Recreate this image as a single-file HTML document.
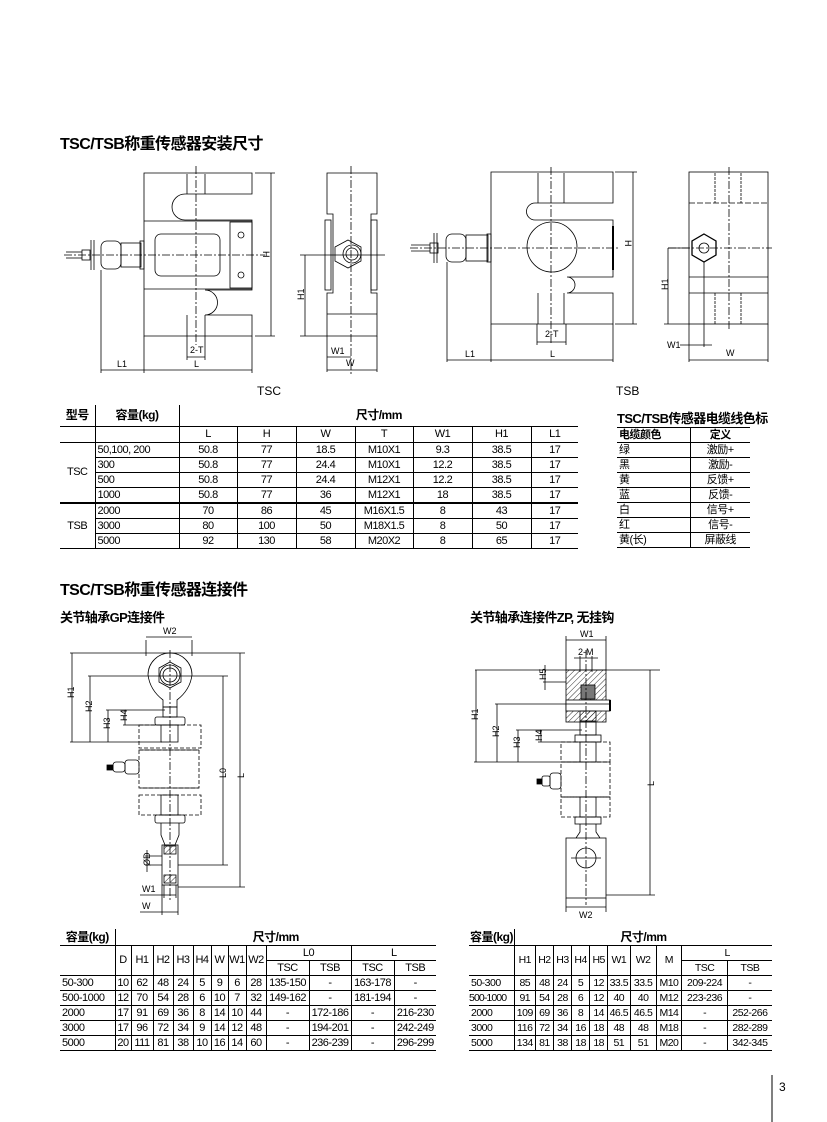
<!DOCTYPE html>
<html><head><meta charset="utf-8">
<style>
body{margin:0;background:#fff;}
#pg{position:relative;width:827px;height:1122px;overflow:hidden;background:#fff;font-family:"Liberation Sans","Noto Sans CJK SC",sans-serif;color:#000;}
.h{position:absolute;font-weight:bold;font-family:"Liberation Sans","Noto Sans CJK SC",sans-serif;white-space:nowrap;letter-spacing:-0.6px;}
table{position:absolute;border-collapse:collapse;table-layout:fixed;font:11px "Liberation Sans","Noto Sans CJK SC",sans-serif;letter-spacing:-0.5px;}
td{border:1px solid #000;padding:0;height:14px;line-height:14px;text-align:center;white-space:nowrap;overflow:hidden;}
tr td:first-child{border-left:none;}
tr td:last-child{border-right:none;}
tr:first-child td{border-top:none;}
.b{font-weight:bold;font-size:12px;}
.l{text-align:left;padding-left:2px;}
svg{position:absolute;left:0;top:0;}
</style></head><body><div id="pg">

<div class="h" style="left:60px;top:130px;font-size:16px;">TSC/TSB称重传感器安装尺寸</div>
<div class="h" style="left:60px;top:576px;font-size:16px;">TSC/TSB称重传感器连接件</div>
<div class="h" style="left:60px;top:607px;font-size:13px;">关节轴承GP连接件</div>
<div class="h" style="left:470px;top:607px;font-size:13px;">关节轴承连接件ZP, 无挂钩</div>
<div class="h" style="left:617px;top:408px;font-size:13px;">TSC/TSB传感器电缆线色标</div>
<div style="position:absolute;left:257px;top:384px;font-size:12px;">TSC</div>
<div style="position:absolute;left:616px;top:384px;font-size:12px;">TSB</div>
<div style="position:absolute;left:779px;top:1080px;font-size:12px;">3</div>

<table style="left:60px;top:405px;width:518px;">
<colgroup><col style="width:35px"><col style="width:84px"><col style="width:58px"><col style="width:59px"><col style="width:59px"><col style="width:58px"><col style="width:59px"><col style="width:59px"><col style="width:47px"></colgroup>
<tr style="height:21px"><td class="b">型号</td><td class="b">容量(kg)</td><td class="b" colspan="7">尺寸/mm</td></tr>
<tr style="height:16px"><td></td><td></td><td>L</td><td>H</td><td>W</td><td>T</td><td>W1</td><td>H1</td><td>L1</td></tr>
<tr><td rowspan="4">TSC</td><td class="l">50,100, 200</td><td>50.8</td><td>77</td><td>18.5</td><td>M10X1</td><td>9.3</td><td>38.5</td><td>17</td></tr>
<tr><td class="l">300</td><td>50.8</td><td>77</td><td>24.4</td><td>M10X1</td><td>12.2</td><td>38.5</td><td>17</td></tr>
<tr><td class="l">500</td><td>50.8</td><td>77</td><td>24.4</td><td>M12X1</td><td>12.2</td><td>38.5</td><td>17</td></tr>
<tr><td class="l">1000</td><td>50.8</td><td>77</td><td>36</td><td>M12X1</td><td>18</td><td>38.5</td><td>17</td></tr>
<tr><td rowspan="3" style="border-top:2px solid #000">TSB</td><td class="l" style="border-top:2px solid #000">2000</td><td style="border-top:2px solid #000">70</td><td style="border-top:2px solid #000">86</td><td style="border-top:2px solid #000">45</td><td style="border-top:2px solid #000">M16X1.5</td><td style="border-top:2px solid #000">8</td><td style="border-top:2px solid #000">43</td><td style="border-top:2px solid #000">17</td></tr>
<tr><td class="l">3000</td><td>80</td><td>100</td><td>50</td><td>M18X1.5</td><td>8</td><td>50</td><td>17</td></tr>
<tr><td class="l">5000</td><td>92</td><td>130</td><td>58</td><td>M20X2</td><td>8</td><td>65</td><td>17</td></tr>
</table>

<table style="left:617px;top:427px;width:133px;border-top:1px solid #000;">
<colgroup><col style="width:73px"><col style="width:60px"></colgroup>
<tr><td class="b l" style="font-size:11px;border-top:1px solid #000">电缆颜色</td><td class="b" style="font-size:11px;border-top:1px solid #000">定义</td></tr>
<tr><td class="l">绿</td><td>激励+</td></tr>
<tr><td class="l">黑</td><td>激励-</td></tr>
<tr><td class="l">黄</td><td>反馈+</td></tr>
<tr><td class="l">蓝</td><td>反馈-</td></tr>
<tr><td class="l">白</td><td>信号+</td></tr>
<tr><td class="l">红</td><td>信号-</td></tr>
<tr><td class="l">黄(长)</td><td>屏蔽线</td></tr>
</table>

<table style="left:60px;top:929px;width:376px;">
<colgroup><col style="width:55px"><col style="width:16px"><col style="width:22px"><col style="width:20px"><col style="width:20px"><col style="width:18px"><col style="width:17px"><col style="width:18px"><col style="width:20px"><col style="width:43px"><col style="width:42px"><col style="width:43px"><col style="width:42px"></colgroup>
<tr style="height:16px"><td class="b">容量(kg)</td><td class="b" colspan="12">尺寸/mm</td></tr>
<tr><td rowspan="2"></td><td rowspan="2">D</td><td rowspan="2">H1</td><td rowspan="2">H2</td><td rowspan="2">H3</td><td rowspan="2">H4</td><td rowspan="2">W</td><td rowspan="2">W1</td><td rowspan="2">W2</td><td colspan="2">L0</td><td colspan="2">L</td></tr>
<tr><td>TSC</td><td>TSB</td><td>TSC</td><td>TSB</td></tr>
<tr><td class="l">50-300</td><td>10</td><td>62</td><td>48</td><td>24</td><td>5</td><td>9</td><td>6</td><td>28</td><td>135-150</td><td>-</td><td>163-178</td><td>-</td></tr>
<tr><td class="l">500-1000</td><td>12</td><td>70</td><td>54</td><td>28</td><td>6</td><td>10</td><td>7</td><td>32</td><td>149-162</td><td>-</td><td>181-194</td><td>-</td></tr>
<tr><td class="l">2000</td><td>17</td><td>91</td><td>69</td><td>36</td><td>8</td><td>14</td><td>10</td><td>44</td><td>-</td><td>172-186</td><td>-</td><td>216-230</td></tr>
<tr><td class="l">3000</td><td>17</td><td>96</td><td>72</td><td>34</td><td>9</td><td>14</td><td>12</td><td>48</td><td>-</td><td>194-201</td><td>-</td><td>242-249</td></tr>
<tr><td class="l">5000</td><td>20</td><td>111</td><td>81</td><td>38</td><td>10</td><td>16</td><td>14</td><td>60</td><td>-</td><td>236-239</td><td>-</td><td>296-299</td></tr>
</table>

<table style="left:469px;top:929px;width:303px;font-size:10.5px;">
<colgroup><col style="width:44px"><col style="width:20px"><col style="width:18px"><col style="width:17px"><col style="width:18px"><col style="width:17px"><col style="width:22px"><col style="width:25px"><col style="width:25px"><col style="width:44px"><col style="width:43px"></colgroup>
<tr style="height:16px"><td class="b">容量(kg)</td><td class="b" colspan="10">尺寸/mm</td></tr>
<tr><td rowspan="2"></td><td rowspan="2">H1</td><td rowspan="2">H2</td><td rowspan="2">H3</td><td rowspan="2">H4</td><td rowspan="2">H5</td><td rowspan="2">W1</td><td rowspan="2">W2</td><td rowspan="2">M</td><td colspan="2">L</td></tr>
<tr><td>TSC</td><td>TSB</td></tr>
<tr><td class="l">50-300</td><td>85</td><td>48</td><td>24</td><td>5</td><td>12</td><td>33.5</td><td>33.5</td><td>M10</td><td>209-224</td><td>-</td></tr>
<tr><td class="l" style="letter-spacing:-0.9px;padding-left:0">500-1000</td><td>91</td><td>54</td><td>28</td><td>6</td><td>12</td><td>40</td><td>40</td><td>M12</td><td>223-236</td><td>-</td></tr>
<tr><td class="l">2000</td><td>109</td><td>69</td><td>36</td><td>8</td><td>14</td><td>46.5</td><td>46.5</td><td>M14</td><td>-</td><td>252-266</td></tr>
<tr><td class="l">3000</td><td>116</td><td>72</td><td>34</td><td>16</td><td>18</td><td>48</td><td>48</td><td>M18</td><td>-</td><td>282-289</td></tr>
<tr><td class="l">5000</td><td>134</td><td>81</td><td>38</td><td>18</td><td>18</td><td>51</td><td>51</td><td>M20</td><td>-</td><td>342-345</td></tr>
</table>

<svg width="827" height="1122" viewBox="0 0 827 1122" fill="none" stroke="#000" stroke-width="0.8" font-family="Liberation Sans, sans-serif" font-size="9">
<defs><pattern id="hat" width="4" height="4" patternUnits="userSpaceOnUse" patternTransform="rotate(45)"><line x1="0" y1="0" x2="0" y2="4" stroke="#000" stroke-width="0.8"/></pattern></defs>
<line x1="772" y1="1075" x2="772" y2="1122" stroke-width="1"/>

<!-- TSC front -->
<path d="M144 173 H252 V194 H185 A13 13 0 0 0 185 220 H252 V290 H205 A12.5 12.5 0 0 1 205 315 H252 V336 H144 Z" fill="#fff"/>
<line x1="144" y1="221" x2="252" y2="221"/><line x1="144" y1="289" x2="252" y2="289"/>
<rect x="155" y="234" width="65" height="42" rx="6"/>
<rect x="230" y="222" width="22" height="66"/>
<circle cx="241" cy="235" r="3"/><circle cx="241" cy="275" r="3"/>
<line x1="187" y1="174" x2="187" y2="194"/><line x1="205" y1="174" x2="205" y2="194"/>
<line x1="187" y1="315" x2="187" y2="336"/><line x1="205" y1="315" x2="205" y2="336"/>
<line x1="196" y1="166" x2="196" y2="345" stroke-dasharray="8 2 2 2"/>
<line x1="64" y1="255" x2="265" y2="255" stroke-dasharray="8 2 2 2"/>
<rect x="101" y="241" width="20" height="28" rx="6"/><rect x="121" y="243" width="20" height="24"/><rect x="140" y="241" width="4" height="28"/>
<rect x="82" y="250" width="8" height="10"/><line x1="91" y1="240" x2="91" y2="270"/><line x1="94" y1="240" x2="94" y2="270"/>
<line x1="66" y1="252" x2="82" y2="252"/><line x1="66" y1="258" x2="82" y2="258"/>
<line x1="271" y1="173" x2="271" y2="336"/><line x1="255" y1="173" x2="275" y2="173"/><line x1="255" y1="336" x2="275" y2="336"/>
<text x="262" y="258" stroke="none" fill="#000" transform="rotate(90 266 255)">H</text>
<line x1="101" y1="270" x2="101" y2="373"/><line x1="144" y1="336" x2="144" y2="373"/><line x1="252" y1="336" x2="252" y2="373"/>
<line x1="101" y1="370" x2="252" y2="370"/>
<text x="117" y="367" stroke="none" fill="#000">L1</text><text x="194" y="367" stroke="none" fill="#000">L</text>
<line x1="187" y1="336" x2="187" y2="360"/><line x1="205" y1="336" x2="205" y2="360"/><line x1="187" y1="357" x2="205" y2="357"/>
<text x="190" y="353" stroke="none" fill="#000">2-T</text>

<!-- TSC side -->
<path d="M327 173 H377 V214 H371 V293 H377 V336 H327 V293 H333 V214 H327 Z" fill="#fff"/>
<rect x="325" y="220" width="6" height="70"/><rect x="371" y="220" width="6" height="70"/>
<line x1="327" y1="314" x2="377" y2="314"/>
<polygon points="348,240 361,247 361,261 348,268 335,261 335,247"/>
<circle cx="352" cy="254" r="9"/><circle cx="352" cy="254" r="6"/>
<line x1="351" y1="166" x2="351" y2="375" stroke-dasharray="8 2 2 2"/>
<line x1="300" y1="255" x2="385" y2="255"/>
<line x1="305" y1="255" x2="305" y2="336"/><line x1="300" y1="336" x2="327" y2="336"/>
<text x="296" y="300" stroke="none" fill="#000" transform="rotate(-90 300 296)">H1</text>
<line x1="327" y1="336" x2="327" y2="372"/><line x1="377" y1="336" x2="377" y2="372"/>
<line x1="327" y1="357" x2="351" y2="357"/><line x1="327" y1="370" x2="377" y2="370"/>
<text x="331" y="354" stroke="none" fill="#000">W1</text><text x="346" y="366" stroke="none" fill="#000">W</text>

<!-- TSB front -->
<path d="M491 172 H613 V203 H535 A8.5 8.5 0 0 0 535 220 H613 V277 H567 A8 8 0 0 1 567 293 H613 V324 H491 Z" fill="#fff"/>
<circle cx="552" cy="247" r="25"/>
<line x1="613" y1="226" x2="613" y2="270" stroke-width="2"/>
<line x1="538" y1="173" x2="538" y2="203"/><line x1="564" y1="173" x2="564" y2="203"/>
<line x1="538" y1="293" x2="538" y2="324"/><line x1="564" y1="293" x2="564" y2="324"/>
<line x1="551" y1="167" x2="551" y2="345" stroke-dasharray="8 2 2 2"/>
<line x1="410" y1="248" x2="620" y2="248" stroke-dasharray="8 2 2 2"/>
<rect x="446" y="234" width="20" height="28" rx="6"/><rect x="466" y="235" width="22" height="26"/><rect x="487" y="234" width="4" height="28"/>
<rect x="430" y="243" width="8" height="10"/><line x1="434" y1="233" x2="434" y2="263"/><line x1="437" y1="233" x2="437" y2="263"/>
<line x1="411" y1="245" x2="430" y2="245"/><line x1="411" y1="251" x2="430" y2="251"/>
<line x1="633" y1="172" x2="633" y2="324"/><line x1="615" y1="172" x2="637" y2="172"/><line x1="615" y1="324" x2="637" y2="324"/>
<text x="624" y="247" stroke="none" fill="#000" transform="rotate(90 628 244)">H</text>
<line x1="447" y1="262" x2="447" y2="362"/><line x1="491" y1="324" x2="491" y2="362"/><line x1="613" y1="324" x2="613" y2="362"/>
<line x1="447" y1="360" x2="613" y2="360"/>
<text x="465" y="357" stroke="none" fill="#000">L1</text><text x="550" y="357" stroke="none" fill="#000">L</text>
<line x1="537" y1="324" x2="537" y2="345"/><line x1="566" y1="324" x2="566" y2="345"/><line x1="537" y1="342" x2="566" y2="342"/>
<text x="545" y="337" stroke="none" fill="#000">2-T</text>

<!-- TSB side -->
<rect x="689" y="172" width="79" height="152" fill="#fff"/>
<line x1="689" y1="203" x2="768" y2="203" stroke-dasharray="6 2"/><line x1="689" y1="277" x2="768" y2="277"/><line x1="689" y1="293" x2="768" y2="293"/>
<line x1="715" y1="173" x2="715" y2="203" stroke-dasharray="3 1"/><line x1="741" y1="173" x2="741" y2="203" stroke-dasharray="3 1"/>
<line x1="715" y1="293" x2="715" y2="324" stroke-dasharray="3 1"/><line x1="741" y1="293" x2="741" y2="324" stroke-dasharray="3 1"/>
<polygon points="704,234 716,241 716,255 704,262 692,255 692,241" stroke-width="1.3"/><circle cx="704" cy="248" r="5"/>
<line x1="729" y1="167" x2="729" y2="330" stroke-dasharray="8 2 2 2"/>
<line x1="668" y1="248" x2="772" y2="248" stroke-dasharray="8 2 2 2"/>
<line x1="668" y1="248" x2="689" y2="248"/>
<line x1="668" y1="248" x2="668" y2="324"/><line x1="664" y1="324" x2="689" y2="324"/>
<text x="660" y="290" stroke="none" fill="#000" transform="rotate(-90 664 286)">H1</text>
<line x1="704" y1="262" x2="704" y2="347"/><line x1="680" y1="345" x2="712" y2="345"/>
<text x="667" y="348" stroke="none" fill="#000">W1</text>
<line x1="689" y1="324" x2="689" y2="362"/><line x1="768" y1="324" x2="768" y2="362"/><line x1="689" y1="360" x2="768" y2="360"/>
<text x="726" y="356" stroke="none" fill="#000">W</text>

<!-- GP connector -->
<path d="M148 675 A22 22 0 1 1 192 675 Q190 690 177 700 L177 707 H163 L163 700 Q150 690 148 675 Z" fill="#fff"/>
<polygon points="170,662 181,668 181,682 170,688 159,682 159,668"/>
<circle cx="170" cy="675" r="10"/><circle cx="170" cy="675" r="7"/>
<rect x="163" y="707" width="14" height="10"/>
<rect x="155" y="717" width="30" height="8" rx="2"/>
<rect x="161" y="725" width="17" height="17"/>
<rect x="139" y="725" width="62" height="23" stroke-dasharray="4 2"/>
<rect x="139" y="750" width="60" height="38" stroke-dasharray="4 2"/>
<line x1="140" y1="750" x2="199" y2="750"/><line x1="140" y1="788" x2="199" y2="788"/>
<rect x="139" y="795" width="62" height="20" stroke-dasharray="4 2"/>
<rect x="161" y="795" width="17" height="20"/>
<rect x="155" y="815" width="30" height="8" rx="2"/>
<path d="M161 823 V835 L165 845 H175 L179 835 V823"/>
<rect x="162" y="845" width="16" height="40"/>
<rect x="164" y="846" width="12" height="8" fill="url(#hat)"/>
<rect x="164" y="875" width="12" height="8" fill="url(#hat)"/>
<rect x="107" y="765" width="6" height="5" fill="#000"/>
<rect x="113" y="762" width="12" height="10" rx="3"/><rect x="125" y="760" width="14" height="14" rx="3"/>
<line x1="170" y1="650" x2="170" y2="900" stroke-dasharray="8 2 2 2"/>
<line x1="146" y1="656" x2="146" y2="640"/><line x1="192" y1="656" x2="192" y2="640"/><line x1="146" y1="637" x2="192" y2="637"/>
<text x="163" y="634" stroke="none" fill="#000">W2</text>
<line x1="70" y1="653" x2="245" y2="653"/><line x1="72" y1="653" x2="72" y2="742"/>
<line x1="88" y1="676" x2="228" y2="676"/><line x1="90" y1="676" x2="90" y2="742"/>
<line x1="106" y1="710" x2="165" y2="710"/><line x1="108" y1="710" x2="108" y2="742"/>
<line x1="123" y1="725" x2="160" y2="725"/><line x1="125" y1="710" x2="125" y2="725"/>
<line x1="70" y1="742" x2="162" y2="742"/>
<text x="66" y="698" stroke="none" fill="#000" transform="rotate(-90 70 694)">H1</text>
<text x="84" y="712" stroke="none" fill="#000" transform="rotate(-90 88 708)">H2</text>
<text x="102" y="729" stroke="none" fill="#000" transform="rotate(-90 106 725)">H3</text>
<text x="119" y="721" stroke="none" fill="#000" transform="rotate(-90 123 717)">H4</text>
<line x1="223" y1="676" x2="223" y2="865"/><line x1="178" y1="865" x2="228" y2="865"/>
<line x1="240" y1="653" x2="240" y2="887"/><line x1="178" y1="887" x2="245" y2="887"/>
<text x="218" y="778" stroke="none" fill="#000" transform="rotate(-90 222 774)">L0</text>
<text x="236" y="778" stroke="none" fill="#000" transform="rotate(-90 240 774)">L</text>
<line x1="145" y1="856" x2="162" y2="856"/><line x1="145" y1="865" x2="162" y2="865"/><line x1="147" y1="850" x2="147" y2="872"/>
<text x="142" y="866" stroke="none" fill="#000" transform="rotate(-90 146 862)">ØD</text>
<line x1="164" y1="885" x2="164" y2="898"/><line x1="176" y1="885" x2="176" y2="898"/><line x1="140" y1="895" x2="176" y2="895"/>
<text x="142" y="892" stroke="none" fill="#000">W1</text>
<line x1="162" y1="885" x2="162" y2="915"/><line x1="178" y1="885" x2="178" y2="915"/><line x1="140" y1="912" x2="178" y2="912"/>
<text x="142" y="909" stroke="none" fill="#000">W</text>

<!-- ZP connector -->
<rect x="566" y="670" width="40" height="52" fill="url(#hat)"/>
<rect x="581" y="685" width="14" height="14" fill="#777"/>
<rect x="566" y="700" width="44" height="11" fill="#fff"/>
<line x1="610" y1="700" x2="610" y2="711" stroke-width="2"/>
<rect x="580" y="711" width="16" height="10" fill="url(#hat)"/>
<rect x="580" y="722" width="16" height="13"/>
<rect x="575" y="735" width="26" height="7"/>
<rect x="561" y="742" width="49" height="20" stroke-dasharray="4 2"/>
<rect x="580" y="742" width="16" height="20"/>
<rect x="561" y="762" width="49" height="35" stroke-dasharray="4 2"/>
<line x1="562" y1="762" x2="609" y2="762"/><line x1="562" y1="797" x2="609" y2="797"/>
<rect x="561" y="797" width="49" height="20" stroke-dasharray="4 2"/>
<rect x="580" y="797" width="16" height="20"/>
<rect x="575" y="817" width="26" height="7"/>
<path d="M580 824 V832 L576 838 M596 824 V832 L600 838"/>
<rect x="566" y="838" width="40" height="60" fill="#fff"/>
<circle cx="586" cy="858" r="10"/><line x1="571" y1="858" x2="601" y2="858"/>
<rect x="537" y="779" width="5" height="5" fill="#000"/>
<rect x="542" y="776" width="8" height="10" rx="2"/><rect x="550" y="773" width="11" height="16" rx="3"/>
<line x1="586" y1="650" x2="586" y2="905" stroke-dasharray="8 2 2 2"/>
<line x1="566" y1="670" x2="566" y2="636"/><line x1="606" y1="670" x2="606" y2="636"/><line x1="566" y1="640" x2="606" y2="640"/>
<text x="580" y="637" stroke="none" fill="#000">W1</text>
<line x1="580" y1="656" x2="580" y2="672"/><line x1="592" y1="656" x2="592" y2="672"/><line x1="574" y1="658" x2="598" y2="658"/>
<text x="578" y="655" stroke="none" fill="#000">2-M</text>
<line x1="475" y1="670" x2="660" y2="670"/><line x1="476" y1="670" x2="476" y2="762"/>
<line x1="495" y1="704" x2="610" y2="704"/><line x1="497" y1="704" x2="497" y2="762"/>
<line x1="516" y1="730" x2="582" y2="730"/><line x1="518" y1="730" x2="518" y2="762"/>
<line x1="538" y1="742" x2="578" y2="742"/><line x1="541" y1="730" x2="541" y2="742"/>
<line x1="543" y1="682" x2="566" y2="682"/><line x1="545" y1="665" x2="545" y2="690"/>
<line x1="474" y1="762" x2="582" y2="762"/>
<text x="470" y="720" stroke="none" fill="#000" transform="rotate(-90 474 716)">H1</text>
<text x="491" y="737" stroke="none" fill="#000" transform="rotate(-90 495 733)">H2</text>
<text x="512" y="748" stroke="none" fill="#000" transform="rotate(-90 516 744)">H3</text>
<text x="534" y="741" stroke="none" fill="#000" transform="rotate(-90 538 737)">H4</text>
<text x="538" y="680" stroke="none" fill="#000" transform="rotate(-90 542 676)">H5</text>
<line x1="650" y1="670" x2="650" y2="895"/><line x1="606" y1="895" x2="655" y2="895"/>
<text x="646" y="786" stroke="none" fill="#000" transform="rotate(-90 650 782)">L</text>
<line x1="566" y1="898" x2="566" y2="912"/><line x1="606" y1="898" x2="606" y2="912"/><line x1="566" y1="907" x2="606" y2="907"/>
<text x="579" y="918" stroke="none" fill="#000">W2</text>
</svg>
</div></body></html>
